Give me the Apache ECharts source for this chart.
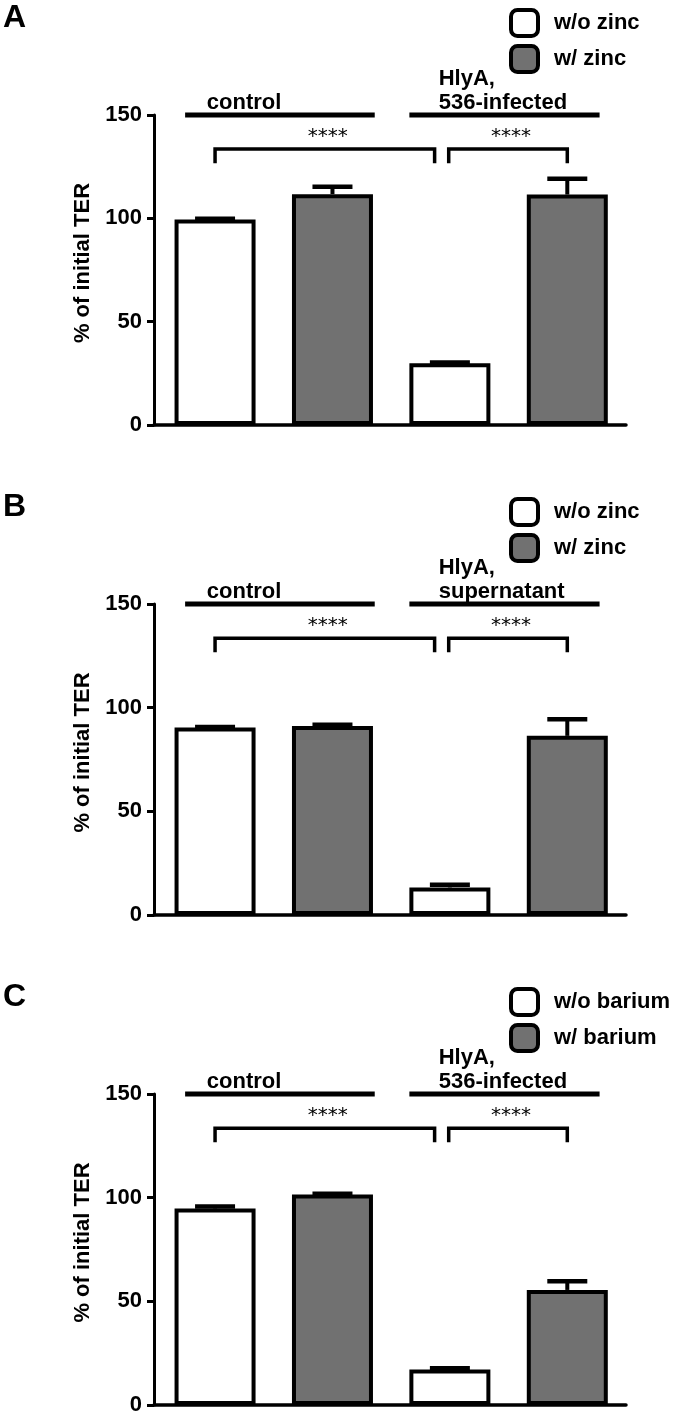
<!DOCTYPE html>
<html>
<head>
<meta charset="utf-8">
<script src="https://cdn.jsdelivr.net/npm/echarts@6/dist/echarts.min.js"></script>
<style>
  html, body { margin: 0; padding: 0; background: #ffffff; }
  #chart { width: 675px; height: 1418px; }
</style>
</head>
<body>
<div id="chart"></div>
<script>
// ---------- data ----------
const panelLetters = ['A', 'B', 'C'];
const yTicks = [0, 50, 100, 150];
const yTitle = '% of initial TER';
const sigLabel = '****';

// bar positions along the x axis (0..3): w/o at 0 and 2, w/ at 1 and 3
const withoutPos = [0, 2];
const withPos = [1, 3];

// Panel A
const legendA = ['w/o zinc', 'w/ zinc'];
const groupLabelsA = ['control', 'HlyA,\n536-infected'];
const withoutA = [99.4, 29.9];
const withoutErrA = [0.4, 0.3];
const withA = [111.7, 111.5];
const withErrA = [3.6, 7.6];

// Panel B
const legendB = ['w/o zinc', 'w/ zinc'];
const groupLabelsB = ['control', 'HlyA,\nsupernatant'];
const withoutB = [90.4, 13.3];
const withoutErrB = [0.3, 1.3];
const withB = [91.1, 86.4];
const withErrB = [0.7, 8.0];

// Panel C
const legendC = ['w/o barium', 'w/ barium'];
const groupLabelsC = ['control', 'HlyA,\n536-infected'];
const withoutC = [94.8, 17.1];
const withoutErrC = [0.9, 0.6];
const withC = [101.5, 55.5];
const withErrC = [0.4, 4.2];

// annotation anchors (x in bar-position units, y in axis units)
const groupSpans = [[-0.255, 1.36], [1.655, 3.275]];
const groupLabelX = [-0.07, 1.905];
const groupLineY = 150;
const brackets = [[0, 1.87], [1.99, 3]];
const bracketY = 133.5;
const bracketDrop = 6.8;

// ---------- layout ----------
const FONT = "'Liberation Sans', Arial, Helvetica, sans-serif";
const gridTops = [115, 604, 1094];
const gridHeights = [310, 311, 311];
const gridLeft = 154;
const gridRight = 49;
const xMin = -0.52, xMax = 3.5;

const panels = [
  { legend: legendA, labels: groupLabelsA, wo: withoutA, woErr: withoutErrA, w: withA, wErr: withErrA },
  { legend: legendB, labels: groupLabelsB, wo: withoutB, woErr: withoutErrB, w: withB, wErr: withErrB },
  { legend: legendC, labels: groupLabelsC, wo: withoutC, woErr: withoutErrC, w: withC, wErr: withErrC }
];

const option = {
  animation: false,
  backgroundColor: '#ffffff',
  title: [], grid: [], xAxis: [], yAxis: [], legend: [], series: []
};

function errRender(params, api) {
  const x = api.value(0), v = api.value(1), e = api.value(2);
  const p0 = api.coord([x, v]);
  const p1 = api.coord([x, v + e]);
  return {
    type: 'group',
    children: [
      { type: 'line', shape: { x1: p0[0], y1: p0[1], x2: p1[0], y2: p1[1] }, style: { stroke: '#000', lineWidth: 4 } },
      { type: 'line', shape: { x1: p1[0] - 20, y1: p1[1], x2: p1[0] + 20, y2: p1[1] }, style: { stroke: '#000', lineWidth: 4.5 } }
    ]
  };
}

function groupLineRender(params, api) {
  const a = api.coord([api.value(0), api.value(2)]);
  const b = api.coord([api.value(1), api.value(2)]);
  return { type: 'line', shape: { x1: a[0], y1: a[1], x2: b[0], y2: b[1] }, style: { stroke: '#000', lineWidth: 5 } };
}

function bracketRender(params, api) {
  const y = api.value(2), d = api.value(3);
  const a = api.coord([api.value(0), y]);
  const b = api.coord([api.value(1), y]);
  const a2 = api.coord([api.value(0), y - d]);
  const b2 = api.coord([api.value(1), y - d]);
  const mid = api.coord([(api.value(0) + api.value(1)) / 2, y]);
  return {
    type: 'group',
    children: [
      { type: 'polyline', shape: { points: [[a2[0], a2[1]], [a[0], a[1]], [b[0], b[1]], [b2[0], b2[1]]] },
        style: { stroke: '#000', lineWidth: 3.5, fill: null } },
      { type: 'text', x: mid[0] + 3, y: mid[1] - 12,
        style: { text: sigLabel, fontSize: 20, fontFamily: "'DejaVu Sans', sans-serif", fill: '#000',
                 align: 'center', verticalAlign: 'middle' } }
    ]
  };
}

function makeLabelRender(labels) {
  return function (params, api) {
    const p = api.coord([api.value(0), api.value(1)]);
    return {
      type: 'text', x: p[0], y: p[1],
      style: { text: labels[params.dataIndex], fontSize: 22, fontWeight: 'bold', fontFamily: FONT, fill: '#000',
               align: 'left', verticalAlign: 'bottom', lineHeight: 24 }
    };
  };
}

panels.forEach((pn, i) => {
  const top = gridTops[i];
  option.title.push({
    text: panelLetters[i], left: 3, top: top - 115 + 2, padding: 0,
    textStyle: { fontSize: 32, fontWeight: 'bold', fontFamily: FONT, color: '#000' }
  });
  option.grid.push({ left: gridLeft, right: gridRight, top: top, height: gridHeights[i] });
  option.xAxis.push({
    type: 'value', gridIndex: i, min: xMin, max: xMax,
    axisLine: { show: true, onZero: false, lineStyle: { color: '#000', width: 3.5 } },
    axisTick: { show: false }, axisLabel: { show: false }, splitLine: { show: false }
  });
  option.yAxis.push({
    type: 'value', gridIndex: i, min: yTicks[0], max: yTicks[yTicks.length - 1], interval: yTicks[1] - yTicks[0],
    name: yTitle, nameLocation: 'middle', nameGap: 58, nameRotate: 90,
    nameTextStyle: { fontSize: 22, fontWeight: 'bold', fontFamily: FONT, color: '#000', padding: [0, 0, 0, 14] },
    axisLine: { show: true, onZero: false, lineStyle: { color: '#000', width: 3 } },
    axisTick: { show: true, length: 7, lineStyle: { color: '#000', width: 3 } },
    axisLabel: { fontSize: 22, fontWeight: 'bold', fontFamily: FONT, color: '#000', margin: 12 },
    splitLine: { show: false }
  });
  option.legend.push({
    orient: 'vertical', left: 509, top: top - 115 + 8, padding: 0, itemWidth: 27, itemHeight: 26, itemGap: 6,
    icon: 'roundRect', selectedMode: false,
    textStyle: { fontSize: 22, fontWeight: 'bold', fontFamily: FONT, color: '#000', padding: [0, 0, 0, 11] },
    data: [
      { name: pn.legend[0], itemStyle: { color: '#ffffff', borderColor: '#000', borderWidth: 4 } },
      { name: pn.legend[1], itemStyle: { color: '#717171', borderColor: '#000', borderWidth: 4 } }
    ]
  });
  const common = { xAxisIndex: i, yAxisIndex: i };
  option.series.push(Object.assign({
    name: pn.legend[0], type: 'bar', barWidth: 81, barGap: '-100%', z: 3,
    itemStyle: { color: '#ffffff', borderColor: '#000', borderWidth: 4 },
    data: pn.wo.map((v, k) => [withoutPos[k], v])
  }, common));
  option.series.push(Object.assign({
    name: pn.legend[1], type: 'bar', barWidth: 81, barGap: '-100%', z: 3,
    itemStyle: { color: '#717171', borderColor: '#000', borderWidth: 4 },
    data: pn.w.map((v, k) => [withPos[k], v])
  }, common));
  option.series.push(Object.assign({
    type: 'custom', renderItem: errRender, z: 2, clip: false,
    encode: { x: 0, y: 1 },
    data: pn.wo.map((v, k) => [withoutPos[k], v, pn.woErr[k]]).concat(pn.w.map((v, k) => [withPos[k], v, pn.wErr[k]]))
  }, common));
  option.series.push(Object.assign({
    type: 'custom', renderItem: groupLineRender, z: 4, clip: false,
    encode: { x: 0, y: 2 },
    data: groupSpans.map(s => [s[0], s[1], groupLineY])
  }, common));
  option.series.push(Object.assign({
    type: 'custom', renderItem: bracketRender, z: 4, clip: false,
    encode: { x: 0, y: 2 },
    data: brackets.map(b => [b[0], b[1], bracketY, bracketDrop])
  }, common));
  option.series.push(Object.assign({
    type: 'custom', renderItem: makeLabelRender(pn.labels), z: 4, clip: false,
    encode: { x: 0, y: 1 },
    data: pn.labels.map((t, k) => [groupLabelX[k], groupLineY])
  }, common));
});

const chart = echarts.init(document.getElementById('chart'), null, { renderer: 'canvas' });
chart.setOption(option);
</script>
</body>
</html>
